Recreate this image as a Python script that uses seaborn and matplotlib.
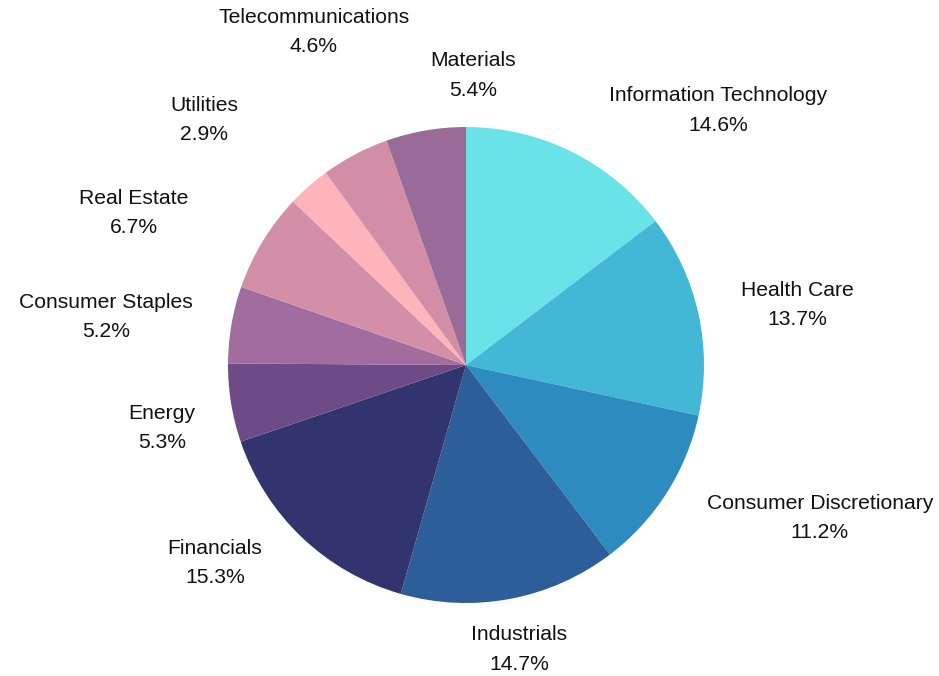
import matplotlib
matplotlib.use("Agg")
import matplotlib.pyplot as plt
import seaborn as sns

sectors = ["Information Technology", "Health Care", "Consumer Discretionary",
           "Industrials", "Financials", "Energy", "Consumer Staples",
           "Real Estate", "Utilities", "Telecommunications", "Materials"]
shares = [14.6, 13.7, 11.2, 14.7, 15.3, 5.3, 5.2, 6.7, 2.9, 4.6, 5.4]
colors = ["#6AE3E8", "#42B8D6", "#2E8BBF", "#2E5E99", "#31346E", "#6E4A86",
          "#A06D9E", "#D48FA8", "#FDB4BA", "#D28EA7", "#9A6B98"]

# label centre positions in units of pie radius (relative to centre)
label_pos = {
    "Information Technology": (1.059, 1.071),
    "Health Care": (1.391, 0.252),
    "Consumer Discretionary": (1.487, -0.643),
    "Industrials": (0.223, -1.197),
    "Financials": (-1.055, -0.832),
    "Energy": (-1.277, -0.265),
    "Consumer Staples": (-1.513, 0.202),
    "Real Estate": (-1.395, 0.639),
    "Utilities": (-1.101, 1.029),
    "Telecommunications": (-0.639, 1.399),
    "Materials": (0.029, 1.218),
}

sns.set_theme(style="white")
plt.rcParams["font.family"] = ["Liberation Sans", "DejaVu Sans"]

fig = plt.figure(figsize=(9.39, 6.76), dpi=100)
ax = fig.add_axes([0, 0, 1, 1])
ax.pie(shares, colors=colors, startangle=90, counterclock=False,
       radius=1.0, center=(0, 0), wedgeprops=dict(linewidth=0),
       normalize=True)
for name, val in zip(sectors, shares):
    x, y = label_pos[name]
    ax.text(x, y, f"{name}\n{val:.1f}%", ha="center", va="center",
            fontsize=15.2, color="#111111", linespacing=1.72)

ax.set_xlim(-466 / 238, (939 - 466) / 238)
ax.set_ylim(-(676 - 365) / 238, 365 / 238)
ax.set_aspect("auto")
ax.axis("off")
fig.savefig("out.png", dpi=100, facecolor="white")
